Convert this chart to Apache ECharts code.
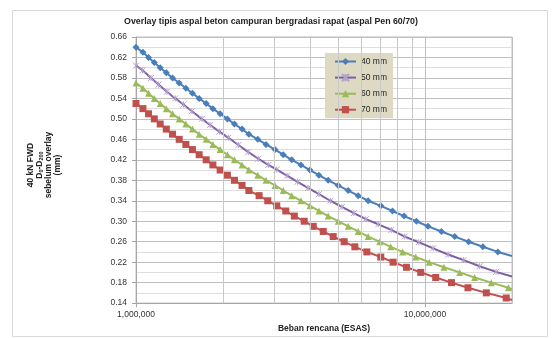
<!DOCTYPE html>
<html>
<head>
<meta charset="utf-8">
<script src="https://cdn.jsdelivr.net/npm/echarts@6/dist/echarts.min.js"></script>
<style>
html,body{margin:0;padding:0;background:#fff;}
#c{width:560px;height:338px;}
</style>
</head>
<body>
<div id="c"></div>
<script>
// ---- data ----
const seriesNames = ['40 mm', '50 mm', '60 mm', '70 mm'];

const esa40 = [1.000e6,1.057e6,1.105e6,1.157e6,1.213e6,1.273e6,1.338e6,1.411e6,1.488e6,1.568e6,1.654e6,1.749e6,1.845e6,1.955e6,2.071e6,2.191e6,2.328e6,2.458e6,2.638e6,2.818e6,3.027e6,3.233e6,3.457e6,3.722e6,3.999e6,4.296e6,4.624e6,5.008e6,5.422e6,5.872e6,6.357e6,7.031e6,7.718e6,8.464e6,9.339e6,10.24e6,11.40e6,12.67e6,14.16e6,15.86e6,17.87e6,20.0e6];
const defl40 = [0.64,0.63,0.62,0.61,0.60,0.59,0.58,0.57,0.56,0.55,0.54,0.53,0.52,0.51,0.50,0.49,0.48,0.47,0.46,0.45,0.44,0.43,0.42,0.41,0.40,0.39,0.38,0.37,0.36,0.35,0.34,0.33,0.32,0.31,0.30,0.29,0.28,0.27,0.26,0.25,0.24,0.232];

const esa50 = [1.000e6,1.054e6,1.127e6,1.197e6,1.279e6,1.367e6,1.460e6,1.561e6,1.690e6,1.805e6,1.943e6,2.088e6,2.261e6,2.448e6,2.651e6,2.871e6,3.069e6,3.331e6,3.620e6,3.936e6,4.296e6,4.706e6,5.159e6,5.674e6,6.242e6,6.893e6,7.644e6,8.510e6,9.513e6,10.67e6,12.02e6,13.60e6,15.45e6,17.62e6,20.0e6];
const defl50 = [0.604,0.595,0.580,0.567,0.553,0.540,0.528,0.515,0.500,0.488,0.475,0.463,0.449,0.435,0.422,0.410,0.401,0.389,0.377,0.365,0.353,0.340,0.328,0.316,0.304,0.294,0.283,0.270,0.259,0.247,0.235,0.224,0.212,0.201,0.192];

const esa60 = [1.000e6,1.057e6,1.105e6,1.157e6,1.213e6,1.273e6,1.338e6,1.411e6,1.488e6,1.568e6,1.654e6,1.749e6,1.845e6,1.955e6,2.071e6,2.191e6,2.328e6,2.458e6,2.638e6,2.818e6,3.027e6,3.233e6,3.457e6,3.722e6,3.999e6,4.296e6,4.624e6,5.008e6,5.422e6,5.872e6,6.357e6,6.97e6,7.61e6,8.37e6,9.29e6,10.34e6,11.63e6,13.18e6,14.85e6,16.96e6,19.45e6,20.0e6];
const defl60 = [0.57,0.56,0.55,0.54,0.53,0.52,0.51,0.50,0.49,0.48,0.47,0.46,0.45,0.44,0.43,0.42,0.41,0.40,0.39,0.38,0.37,0.36,0.35,0.34,0.33,0.32,0.31,0.30,0.29,0.28,0.27,0.26,0.25,0.24,0.23,0.22,0.21,0.20,0.19,0.18,0.17,0.167];

const esa70 = [1.000e6,1.057e6,1.105e6,1.157e6,1.213e6,1.273e6,1.338e6,1.411e6,1.488e6,1.568e6,1.654e6,1.749e6,1.845e6,1.955e6,2.071e6,2.191e6,2.328e6,2.458e6,2.666e6,2.857e6,3.070e6,3.298e6,3.531e6,3.820e6,4.106e6,4.445e6,4.812e6,5.252e6,5.718e6,6.291e6,7.030e6,7.754e6,8.626e6,9.665e6,10.89e6,12.35e6,14.08e6,16.30e6,19.10e6,20.0e6];
const defl70 = [0.53,0.52,0.51,0.50,0.49,0.48,0.47,0.46,0.45,0.44,0.43,0.42,0.41,0.40,0.39,0.38,0.37,0.36,0.35,0.34,0.33,0.32,0.31,0.30,0.29,0.28,0.27,0.26,0.25,0.24,0.23,0.22,0.21,0.20,0.19,0.18,0.17,0.16,0.15,0.146];

const xMin = 1e6, xMax = 2e7;
const yMin = 0.14, yMax = 0.66, yStep = 0.04;
const xMinorGrid = [2e6,3e6,4e6,5e6,6e6,7e6,8e6,9e6];

const titleText = 'Overlay tipis aspal beton campuran bergradasi rapat (aspal Pen 60/70)';
const xName = 'Beban rencana (ESAS)';

// ---- styles ----
const FONT = '"Liberation Sans", Arial, sans-serif';
const colors = ['#4a7ebb', '#7d5fa0', '#9bbb59', '#c0504d'];
const starPath = 'path://M0,0L10,10M10,0L0,10M5,0L5,10';

function pairs(xs, ys) {
  return xs.map((x, i) => {
    const d = { value: [x, ys[i]] };
    if (x >= xMax) d.symbol = 'none';
    return d;
  });
}

const chart = echarts.init(document.getElementById('c'), null, { renderer: 'canvas' });

const mk = (name, xs, ys, color, symbol, size, extraItem) => ({
  name, type: 'line', data: pairs(xs, ys), z: 3,
  symbol, symbolSize: size, showSymbol: true,
  lineStyle: { color, width: 2 },
  itemStyle: Object.assign({ color, borderWidth: 0 }, extraItem || {}),
  emphasis: { disabled: true }, animation: false
});

const option = {
  animation: false,
  textStyle: { fontFamily: FONT },
  grid: { left: 136, top: 37, right: 48, bottom: 34, show: true, borderColor: '#bfbfbf', borderWidth: 1, containLabel: false },
  xAxis: {
    type: 'log', logBase: 10, min: xMin, max: xMax,
    axisLine: { show: true, lineStyle: { color: '#a6a6a6' } },
    axisTick: { show: true, length: 4, lineStyle: { color: '#a6a6a6' } },
    axisLabel: {
      fontSize: 8.5, color: '#333', margin: 7, fontFamily: FONT,
      showMaxLabel: false,
      formatter: v => {
        const l = Math.log10(v);
        if (Math.abs(l - Math.round(l)) > 1e-6) return '';
        return Math.round(v).toLocaleString('en-US');
      }
    },
    splitLine: { show: true, lineStyle: { color: '#bfbfbf' } },
    name: xName, nameLocation: 'middle', nameGap: 19,
    nameTextStyle: { fontSize: 8.5, fontWeight: 'bold', color: '#222', fontFamily: FONT }
  },
  yAxis: {
    type: 'value', min: yMin, max: yMax, interval: yStep,
    axisLine: { show: true, lineStyle: { color: '#a6a6a6' } },
    axisTick: { show: true, length: 4, lineStyle: { color: '#a6a6a6' } },
    axisLabel: { fontSize: 8.5, color: '#333', margin: 9, fontFamily: FONT, formatter: v => v.toFixed(2) },
    splitLine: { show: true, lineStyle: { color: '#bfbfbf' } },
    minorTick: { show: false, splitNumber: 2 },
    minorSplitLine: { show: true, lineStyle: { color: '#dedede' } }
  },
  legend: {
    orient: 'vertical', left: 325, top: 53,
    data: seriesNames,
    backgroundColor: '#ddd9c3',
    padding: [4, 6, 4, 9],
    itemGap: 7, itemWidth: 21, itemHeight: 9,
    textStyle: { fontSize: 8.5, color: '#222', fontFamily: FONT },
    selectedMode: false
  },
  graphic: [
    { type: 'rect', shape: { x: 12.5, y: 10.5, width: 535, height: 326 }, style: { fill: 'none', stroke: '#d9d9d9', lineWidth: 1 }, silent: true, z: 0 },
    { type: 'text', x: 271, y: 22, style: { text: titleText, fill: '#222', font: 'bold 8.8px ' + FONT, align: 'center', verticalAlign: 'middle' }, z: 10 },
    { type: 'text', x: 44, y: 165, rotation: Math.PI / 2,
      style: {
        text: '{a|40 kN FWD}\n{a|D}{s|0}{a|-D}{s|200}\n{a|sebelum overlay}\n{a|(mm)}',
        rich: {
          a: { font: 'bold 8.5px ' + FONT, fill: '#222', lineHeight: 9 },
          s: { font: 'bold 5.5px ' + FONT, fill: '#222', lineHeight: 9, verticalAlign: 'bottom' }
        },
        align: 'center', verticalAlign: 'middle'
      }, z: 10 }
  ],
  series: [
    { name: '_grid', type: 'line', data: [], z: 1, silent: true,
      markLine: { silent: true, symbol: ['none', 'none'], label: { show: false }, animation: false,
        lineStyle: { color: '#c8c8c8', type: 'solid', width: 1 },
        data: xMinorGrid.map(v => ({ xAxis: v })) } },
    mk(seriesNames[0], esa40, defl40, colors[0], 'diamond', 7),
    mk(seriesNames[1], esa50, defl50, colors[1], starPath, 6, { borderColor: '#b3a2cf', borderWidth: 1 }),
    mk(seriesNames[2], esa60, defl60, colors[2], 'triangle', 7),
    mk(seriesNames[3], esa70, defl70, colors[3], 'rect', 7)
  ]
};
chart.setOption(option);
</script>
</body>
</html>
